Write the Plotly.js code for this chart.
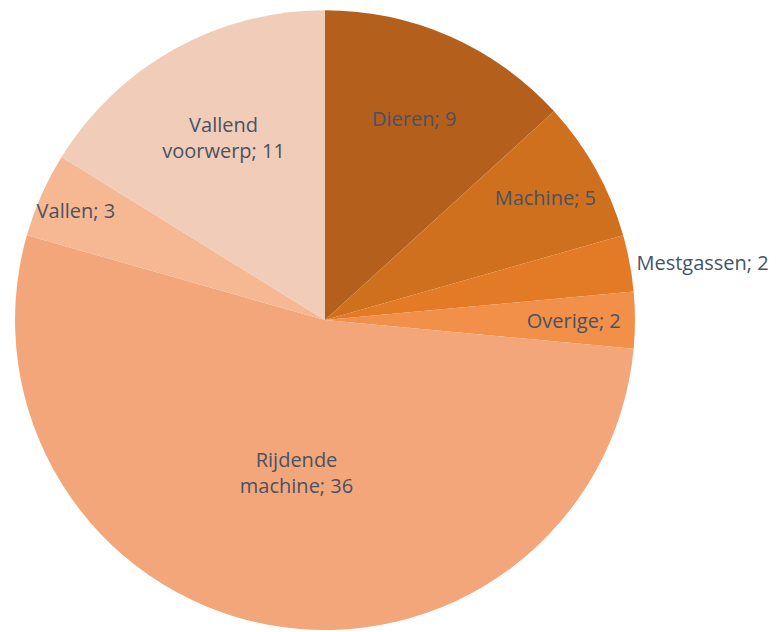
<!DOCTYPE html>
<html>
<head>
<meta charset="utf-8">
<script src="https://cdn.plot.ly/plotly-3.0.1.min.js"></script>
<style>html,body{margin:0;padding:0;background:#fff;}#chart{width:779px;height:632px;}</style>
</head>
<body>
<div id="chart"></div>
<script>
var categories = ["Dieren", "Machine", "Mestgassen", "Overige", "Rijdende machine", "Vallen", "Vallend voorwerp"];
var displayLabels = ["Dieren", "Machine", "Mestgassen", "Overige", "Rijdende<br>machine", "Vallen", "Vallend<br>voorwerp"];
var values = [9, 5, 2, 2, 36, 3, 11];
var sliceColors = ["#b45f1c", "#cf701f", "#e27a26", "#f28f48", "#f3a679", "#f5b892", "#f1cdb9"];
var textPositions = ["inside", "inside", "outside", "inside", "inside", "inside", "inside"];

var trace = {
  type: "pie",
  labels: categories,
  values: values,
  customdata: displayLabels,
  texttemplate: "%{customdata}; %{value}",
  textposition: textPositions,
  insidetextorientation: "horizontal",
  sort: false,
  direction: "clockwise",
  rotation: 0,
  marker: {colors: sliceColors, line: {width: 0}},
  textfont: {family: "'Open Sans', sans-serif", size: 20, color: "#4a5262"},
  outsidetextfont: {family: "'Open Sans', sans-serif", size: 20, color: "#44546a"},
  hoverinfo: "none",
  domain: {x: [0.0193, 0.8151], y: [0.003, 0.984]}
};

var layout = {
  width: 779, height: 632,
  margin: {l: 0, r: 0, t: 0, b: 0},
  showlegend: false,
  paper_bgcolor: "#ffffff",
  uniformtext: {mode: "show", minsize: 20}
};

Plotly.newPlot("chart", [trace], layout, {displayModeBar: false, staticPlot: true});
</script>
</body>
</html>
